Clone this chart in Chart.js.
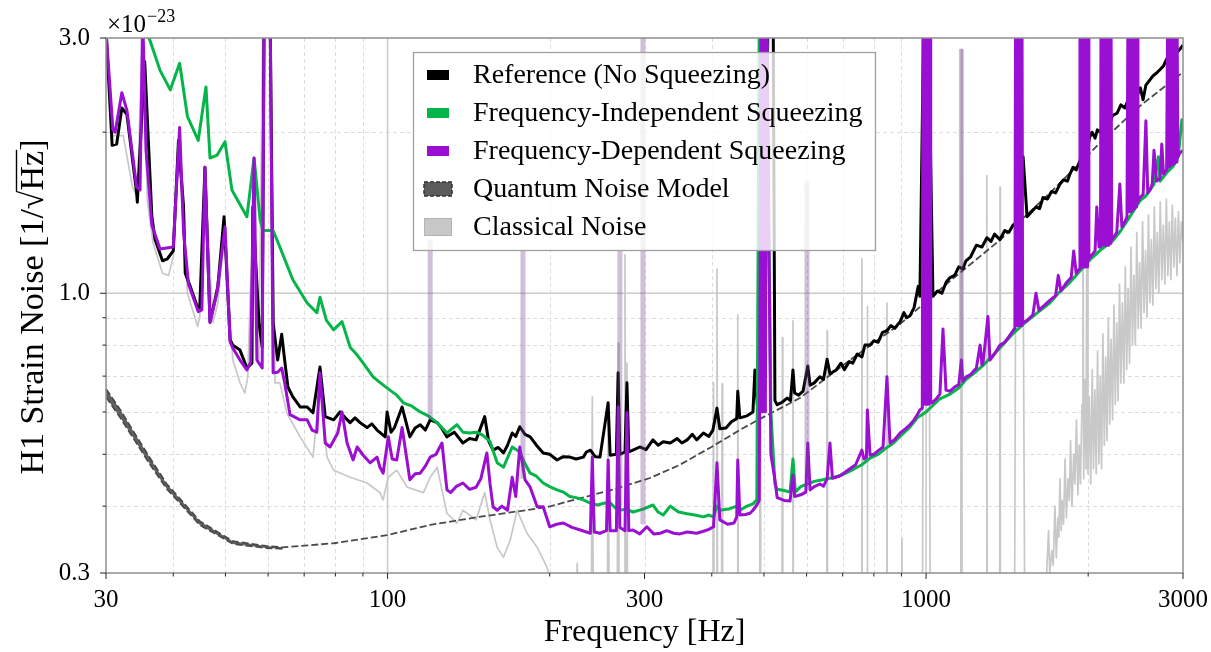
<!DOCTYPE html>
<html><head><meta charset="utf-8">
<script src="https://cdn.jsdelivr.net/npm/chart.js@4.4.1/dist/chart.umd.min.js"></script>
<style>html,body{margin:0;padding:0;background:#fff}#wrap{width:1211px;height:652px}</style>
</head><body><div id="wrap"><canvas id="c" width="1211" height="652"></canvas></div>
<script>
// ---------- DATA (frequency in Hz, strain noise in units of 1e-23 /sqrt(Hz)) ----------
const xTickLabels = [30, 100, 300, 1000, 3000];
const yTickLabels = [0.3, 1.0, 3.0];
const xMinorGrid = [40, 50, 60, 70, 80, 90, 200, 300, 400, 500, 600, 700, 800, 900, 2000];
const xMajorGrid = [100, 1000];
const yMinorGrid = [0.4, 0.5, 0.6, 0.7, 0.8, 0.9, 2.0];
const yMajorGrid = [1.0];
const legendLabels = ['Reference (No Squeezing)', 'Frequency-Independent Squeezing',
  'Frequency-Dependent Squeezing', 'Quantum Noise Model', 'Classical Noise'];

const referenceNoise = [[30,3.1],[30.8,1.89],[31.4,1.90],[32.1,2.22],[32.8,2.16],[34.2,1.54],[34.3,1.48],[35.4,2.71],[36.5,1.39],[37.0,1.26],[38.2,1.15],[39.0,1.16],[40.0,1.20],[40.9,1.93],[41.8,1.45],[42.1,1.09],[43.0,1.03],[44.4,0.94],[44.8,0.94],[45.8,1.72],[46.8,0.885],[47.8,0.971],[48.4,1.03],[49.7,1.39],[51.0,0.818],[51.6,0.80],[53.2,0.783],[54.8,0.725],[56.0,0.74],[56.2,1.45],[57.7,0.881],[58.5,0.793],[59.0,3.5],[60.5,3.5],[61.3,0.881],[62.5,0.75],[63.6,0.838],[64.4,0.75],[65.3,0.668],[66.7,0.64],[68.8,0.613],[70.9,0.613],[72.7,0.598],[74.9,0.728],[76.6,0.588],[79.4,0.58],[81.6,0.60],[83.5,0.585],[85.2,0.573],[87,0.585],[88.9,0.573],[91.6,0.561],[93.5,0.57],[95.6,0.555],[99.0,0.539],[99.8,0.60],[101.5,0.55],[103,0.561],[106.4,0.613],[110,0.539],[112.5,0.56],[115,0.568],[117.5,0.555],[120,0.58],[123.6,0.573],[126,0.56],[128.9,0.539],[133,0.55],[138,0.525],[142,0.535],[146,0.532],[151.5,0.588],[154,0.53],[157,0.509],[160.5,0.515],[164.2,0.503],[167,0.52],[170.4,0.548],[173,0.54],[176,0.563],[180,0.545],[184,0.539],[189,0.52],[194.5,0.503],[200,0.50],[206.4,0.488],[212,0.495],[218,0.494],[224,0.49],[231,0.494],[234,0.505],[238,0.509],[243,0.495],[248,0.494],[256.8,0.624],[259,0.498],[266,0.50],[268,0.71],[270,0.50],[276,0.505],[278.3,0.68],[280.5,0.505],[285.5,0.509],[294,0.516],[302,0.51],[311,0.532],[318,0.52],[325,0.528],[335,0.525],[345,0.535],[352,0.525],[360,0.532],[368,0.545],[375,0.532],[386,0.548],[395,0.54],[402,0.555],[409,0.61],[414,0.558],[425,0.56],[435,0.575],[445,0.583],[447,0.656],[451,0.585],[465,0.59],[477,0.60],[481,0.719],[486,0.619],[490,0.62],[493,3.5],[498,1.2],[510,3.5],[520,3.5],[524,0.63],[529,0.619],[540,0.625],[552,0.637],[560,0.63],[566,0.719],[570,0.651],[580,0.645],[591,0.656],[603,0.731],[609,0.673],[620,0.68],[635,0.698],[645,0.69],[655,0.753],[663,0.707],[681,0.719],[695,0.74],[705,0.72],[720,0.745],[731,0.74],[745,0.77],[760,0.76],[770,0.80],[787,0.80],[800,0.815],[815,0.81],[830,0.845],[846,0.851],[860,0.87],[875,0.86],[895,0.885],[910,0.92],[920,0.90],[934,0.908],[950,0.94],[967,1.03],[974,0.987],[991,3.5],[1008,3.5],[1030,0.987],[1050,1.01],[1070,1.0],[1090,1.05],[1108,1.07],[1130,1.08],[1150,1.12],[1170,1.11],[1186,1.15],[1210,1.17],[1240,1.23],[1270,1.22],[1297,1.27],[1320,1.25],[1340,1.29],[1372,1.26],[1400,1.31],[1425,1.30],[1450,1.34],[1480,1.36],[1500,1.38],[1514,1.80],[1540,1.39],[1570,1.42],[1600,1.45],[1625,1.44],[1649,1.51],[1680,1.50],[1710,1.55],[1740,1.54],[1773,1.60],[1800,1.63],[1830,1.62],[1850,1.67],[1874,1.72],[1900,1.70],[1931,1.77],[1960,1.84],[1990,1.82],[2010,1.95],[2033,2.00],[2060,1.95],[2080,2.02],[2104,2.00],[2140,2.08],[2180,2.05],[2220,2.15],[2263,2.17],[2300,2.25],[2340,2.22],[2380,2.32],[2423,2.37],[2460,2.33],[2500,2.42],[2529,2.30],[2560,2.45],[2600,2.50],[2640,2.55],[2680,2.58],[2720,2.62],[2760,2.66],[2797,2.74],[2840,2.72],[2880,2.80],[2920,2.82],[2962,2.86],[3000,2.91]];

const freqIndepSqz = [[30,4.0],[34,3.4],[36.2,2.97],[37.8,2.61],[39.5,2.40],[41.1,2.69],[42.5,2.14],[44.5,1.93],[46.0,2.43],[46.8,1.79],[48.2,1.81],[49.9,1.92],[51.4,1.56],[54.8,1.39],[56.5,1.79],[58.0,1.37],[58.7,1.31],[61.3,1.31],[63.1,1.22],[66.7,1.06],[70.9,0.959],[73.9,0.920],[74.9,0.983],[77,0.89],[79.4,0.854],[82.3,0.885],[85.2,0.793],[87.5,0.77],[90.1,0.740],[94.0,0.698],[97,0.68],[101,0.659],[104,0.645],[107,0.624],[111,0.615],[115,0.600],[119,0.59],[123.6,0.573],[128.9,0.548],[134.5,0.568],[138,0.55],[142,0.548],[146,0.55],[150.2,0.543],[155,0.528],[159.8,0.482],[164.2,0.473],[170.4,0.516],[176,0.505],[180,0.48],[184,0.461],[189,0.455],[194.5,0.442],[200,0.435],[206.4,0.429],[212,0.425],[218,0.417],[224,0.415],[231,0.411],[238,0.405],[245.6,0.402],[252,0.405],[259,0.406],[264,0.398],[270,0.393],[278,0.395],[285.5,0.390],[298,0.395],[311,0.402],[318,0.39],[325,0.385],[335,0.400],[347,0.39],[360,0.387],[372,0.385],[386,0.382],[395,0.385],[403,0.382],[409,0.40],[414,0.393],[430,0.395],[445,0.400],[451,0.393],[465,0.40],[477,0.404],[485,0.411],[490,3.2],[506,3.2],[515,0.6],[524,0.44],[529,0.43],[545,0.428],[559,0.425],[566,0.49],[572,0.425],[585,0.435],[601,0.44],[620,0.445],[635,0.447],[655,0.45],[670,0.452],[700,0.458],[722,0.465],[760,0.478],[787,0.492],[815,0.50],[846,0.515],[870,0.525],[895,0.540],[930,0.56],[963,0.585],[1000,0.60],[1026,0.615],[1061,0.635],[1108,0.648],[1150,0.665],[1186,0.69],[1230,0.71],[1276,0.733],[1320,0.76],[1372,0.79],[1410,0.815],[1450,0.84],[1514,0.875],[1600,0.915],[1699,0.96],[1760,1.0],[1827,1.035],[1900,1.08],[1960,1.12],[2033,1.165],[2120,1.21],[2224,1.255],[2300,1.31],[2400,1.4],[2496,1.49],[2560,1.52],[2650,1.6],[2700,1.8],[2720,1.62],[2797,1.68],[2880,1.73],[2940,1.80],[2985,2.11],[3000,2.0]];

const freqDepSqz = [[30,3.1],[30.9,2.02],[31.2,2.00],[32.1,2.37],[32.8,2.20],[34.2,1.58],[34.7,1.56],[35.1,3.3],[35.6,1.85],[36.5,1.34],[37.8,1.21],[40.0,1.22],[41.1,2.04],[41.8,1.30],[42.7,1.04],[44.5,0.924],[45.2,0.931],[45.8,1.72],[46.8,0.881],[48.2,1.00],[49.9,1.33],[51.0,0.811],[51.6,0.790],[53.2,0.750],[54.8,0.719],[55.7,0.743],[56.5,1.79],[57.2,0.750],[58.5,0.725],[59.0,3.5],[60.5,3.5],[61.3,0.710],[62.5,0.712],[63.6,0.725],[64.4,0.680],[65.9,0.593],[68.8,0.580],[70.9,0.580],[72.4,0.555],[73.9,0.550],[74.9,0.710],[76.6,0.525],[78.2,0.516],[80.8,0.548],[82.3,0.600],[84.1,0.525],[86.3,0.488],[87.8,0.516],[90.1,0.498],[92.8,0.482],[95.6,0.494],[96.8,0.473],[98.1,0.461],[100.3,0.539],[102,0.49],[104,0.488],[106.4,0.561],[110,0.448],[112.5,0.46],[115,0.461],[117.5,0.475],[120,0.494],[123,0.50],[126.2,0.525],[128.9,0.429],[131,0.424],[134,0.435],[138,0.442],[142,0.43],[146,0.434],[149,0.45],[152.9,0.503],[155,0.44],[157,0.399],[159.8,0.393],[163,0.40],[167,0.393],[170.4,0.453],[173,0.417],[176,0.516],[180,0.448],[184,0.434],[189.6,0.399],[194.5,0.399],[200,0.366],[206,0.37],[212,0.372],[220,0.365],[228,0.361],[238,0.356],[240,0.494],[242,0.358],[248,0.356],[255,0.36],[256.8,0.488],[259,0.36],[266,0.36],[268,0.613],[270,0.365],[276,0.36],[278.3,0.598],[280.5,0.36],[285.5,0.361],[294,0.355],[303,0.366],[312,0.355],[321,0.356],[330,0.36],[340,0.356],[349,0.355],[360,0.358],[375,0.356],[386,0.359],[395,0.362],[403,0.366],[409,0.482],[414,0.377],[428,0.37],[440,0.372],[445,0.382],[447,0.488],[451,0.385],[462,0.386],[471,0.388],[477,0.393],[485,0.402],[490,0.41],[494,3.5],[497,0.6],[500,3.5],[503,0.6],[506,3.5],[515,0.5],[524,0.448],[529,0.415],[545,0.41],[559,0.409],[566,0.457],[570,0.417],[585,0.42],[598,0.425],[603,0.525],[609,0.429],[620,0.435],[635,0.440],[645,0.436],[655,0.45],[663,0.525],[670,0.451],[690,0.455],[705,0.462],[722,0.470],[740,0.478],[760,0.509],[767,0.49],[775,0.494],[778,0.605],[787,0.498],[800,0.50],[815,0.508],[832,0.516],[846,0.698],[857,0.525],[875,0.533],[895,0.548],[915,0.558],[934,0.568],[950,0.58],[963,0.593],[974,0.605],[984,0.61],[987,3.5],[990,0.62],[993,3.5],[996,0.62],[999,3.5],[1002,0.62],[1005,3.5],[1008,0.62],[1011,3.5],[1014,0.62],[1017,3.5],[1020,0.625],[1026,0.624],[1045,0.635],[1061,0.648],[1075,0.857],[1089,0.659],[1108,0.656],[1130,0.668],[1150,0.675],[1163,0.75],[1170,0.685],[1186,0.698],[1210,0.705],[1240,0.725],[1260,0.80],[1270,0.735],[1276,0.742],[1303,0.905],[1314,0.750],[1340,0.77],[1372,0.800],[1400,0.81],[1425,0.83],[1450,0.851],[1462,0.86],[1466,3.5],[1470,0.87],[1474,3.5],[1478,0.87],[1482,3.5],[1486,0.87],[1490,3.5],[1494,0.87],[1498,3.5],[1502,0.87],[1507,3.5],[1511,0.88],[1540,0.89],[1579,0.911],[1600,1.0],[1620,0.93],[1660,0.95],[1699,0.971],[1740,0.99],[1760,1.08],[1780,1.01],[1827,1.05],[1860,1.07],[1880,1.2],[1900,1.09],[1925,1.11],[1931,3.5],[1938,1.12],[1945,3.5],[1952,1.12],[1959,3.5],[1966,1.12],[1973,3.5],[1980,1.12],[1987,3.5],[1994,1.12],[2000,3.5],[2006,1.16],[2033,1.18],[2060,1.20],[2075,1.45],[2095,1.22],[2108,1.22],[2113,3.5],[2121,1.23],[2129,3.5],[2137,1.23],[2145,3.5],[2153,1.23],[2161,3.5],[2169,1.23],[2177,3.5],[2185,1.23],[2193,3.5],[2199,1.24],[2205,3.5],[2212,1.26],[2240,1.28],[2260,1.30],[2290,1.6],[2310,1.33],[2340,1.36],[2361,1.39],[2371,3.5],[2381,1.42],[2391,3.5],[2401,1.42],[2411,3.5],[2421,1.43],[2431,3.5],[2441,1.44],[2451,3.5],[2459,1.45],[2466,3.5],[2474,1.48],[2496,1.51],[2530,1.53],[2560,2.1],[2580,1.54],[2605,1.56],[2630,1.6],[2650,1.85],[2680,1.62],[2720,1.64],[2740,1.9],[2760,1.67],[2797,1.70],[2810,3.5],[2822,1.72],[2834,3.5],[2846,1.73],[2858,3.5],[2870,1.74],[2882,3.5],[2894,1.75],[2906,3.5],[2915,1.76],[2924,3.5],[2935,1.8],[2962,1.83],[3000,1.85]];

const quantumUpper = [[30,0.662],[31.9,0.605],[33.6,0.555],[36.2,0.492],[38.9,0.440],[44.8,0.375],[51.6,0.344],[59.5,0.337],[63.8,0.335],[79.5,0.341],[99.7,0.353],[120,0.369],[148,0.382],[197,0.398],[263,0.430],[308,0.452],[349,0.478],[398,0.515],[455,0.558],[488,0.580],[583,0.637],[722,0.750],[895,0.876],[1108,1.054],[1372,1.258],[1699,1.540],[2104,1.910],[2496,2.239],[3000,2.59]];
const quantumLower = [[30,0.640],[31.9,0.585],[33.6,0.539],[36.2,0.479],[38.9,0.431],[44.8,0.369],[51.6,0.340],[59.5,0.334],[63.8,0.333]];

const classicalNoise = [[30,3.0],[30.9,1.97],[31.9,1.97],[32.3,1.97],[33.6,1.58],[34.3,1.51],[35.1,3.2],[35.8,1.49],[36.7,1.24],[38.2,1.09],[39.2,1.08],[40.0,1.17],[40.9,1.85],[41.8,1.31],[42.5,1.00],[44.4,0.867],[44.8,0.905],[45.8,1.67],[47.4,0.881],[48.4,0.959],[49.9,1.31],[51.6,0.750],[53.2,0.680],[54.3,0.651],[55.0,0.698],[56.2,1.43],[57.7,0.750],[58.7,3.5],[60.5,3.5],[61.8,0.680],[63.1,0.68],[65.0,0.598],[68.8,0.539],[72.7,0.494],[74.9,0.668],[77.2,0.494],[79.4,0.467],[85.2,0.453],[91.6,0.442],[96.8,0.424],[98.1,0.411],[100.3,0.453],[104,0.467],[108.8,0.434],[116.6,0.424],[120,0.453],[123.6,0.473],[128.9,0.388],[134.5,0.372],[138,0.393],[146,0.377],[151.5,0.424],[155,0.377],[159.8,0.335],[164.2,0.321],[169,0.346],[174,0.393],[181.5,0.356],[189.6,0.335],[197.6,0.308],[203,0.28],[215,0.25],[224,0.25],[225,0.313],[226,0.25],[239,0.25],[240,0.640],[241,0.25],[256,0.25],[256.8,0.624],[258,0.25],[267,0.25],[268,0.807],[269,0.25],[275,0.25],[276,1.18],[277,0.25],[277.6,0.25],[278.3,0.740],[279,0.25],[402,0.25],[403,0.680],[404,0.25],[408,0.25],[409,1.11],[410,0.25],[417,0.25],[418,0.677],[419,0.25],[446,0.25],[447,0.911],[448,0.25],[491,0.25],[492,1.53],[493,0.25],[540,0.25],[541,0.826],[542,0.25],[565,0.25],[566,0.888],[567,0.25],[654,0.25],[655,0.851],[656,0.25],[759,0.25],[760,1.16],[761,0.25],[777,0.25],[778,0.944],[779,0.25],[845,0.25],[846,0.959],[847,0.25],[901,0.25],[902,0.348],[903,0.25],[985,0.25],[988,1.6],[1000,0.9],[1012,1.6],[1018,0.25],[1160,0.25],[1163,2.86],[1166,0.25],[1295,0.25],[1297,1.66],[1299,0.25],[1370,0.25],[1372,1.58],[1374,0.25],[1460,0.25],[1470,2.2],[1490,1.2],[1510,2.2],[1525,0.25],[1663,0.25],[1677,0.31],[1688,0.36],[1697,0.30],[1712,0.33],[1722,0.31],[1735,0.40],[1745,0.32],[1757,0.38],[1764,0.35],[1773,0.45],[1782,0.36],[1790,0.41],[1800,0.37],[1812,0.49],[1822,0.38],[1835,0.45],[1845,0.41],[1855,0.53],[1866,0.40],[1880,0.50],[1890,0.44],[1902,0.58],[1914,0.42],[1925,0.52],[1935,0.44],[1948,0.62],[1956,1.49],[1962,0.45],[1973,0.69],[1982,0.47],[1990,2.02],[1998,0.46],[2010,0.64],[2022,0.44],[2035,0.72],[2046,0.47],[2058,0.66],[2070,0.46],[2082,0.78],[2094,0.48],[2106,0.70],[2118,0.47],[2130,0.84],[2143,0.52],[2156,0.76],[2168,0.53],[2180,0.90],[2193,0.57],[2206,0.82],[2220,0.58],[2233,0.95],[2246,0.62],[2260,0.88],[2273,0.63],[2287,1.04],[2300,0.68],[2315,0.96],[2330,0.68],[2344,1.12],[2358,0.72],[2372,1.02],[2387,0.74],[2402,1.22],[2417,0.80],[2432,1.08],[2447,0.80],[2462,1.30],[2477,0.86],[2492,1.14],[2508,0.86],[2524,1.36],[2540,0.92],[2556,1.20],[2572,0.90],[2588,1.40],[2604,0.96],[2620,1.26],[2637,0.95],[2654,1.45],[2671,1.02],[2688,1.30],[2705,1.00],[2722,1.48],[2740,1.06],[2758,1.34],[2776,1.04],[2794,1.50],[2812,1.08],[2830,1.36],[2848,1.06],[2866,1.46],[2885,1.12],[2904,1.38],[2923,1.08],[2942,1.42],[2961,1.14],[2980,1.36],[3000,1.25]];

// faint overlaid line features: [frequency, base, top]
const faintLines = [[120,0.58,1.26],[178.4,0.45,1.2],[270,0.40,1.20],[298,0.37,3.5],[601,0.45,1.62],[1163,0.68,2.86]];

// ---------- STYLE ----------
const C_REF = '#000000', C_FIS = '#06b54a', C_FDS = '#9a0fd2', C_QN = '#4a4a4a', C_CL = '#c8c8c8';
const FONT = "'Liberation Serif', 'Times New Roman', serif";
Chart.defaults.font.family = FONT;
Chart.defaults.color = '#000';

const toXY = a => a.map(p => ({x: p[0], y: p[1]}));
const faintData = [];
faintLines.forEach(s => { faintData.push({x: s[0], y: s[1]}, {x: s[0], y: s[2]}, {x: s[0], y: null}); });

const decor = {
  id: 'decor',
  beforeDatasetsDraw(chart) {
    const {ctx, chartArea: a, scales: {x, y}} = chart;
    ctx.save();
    ctx.lineWidth = 1; ctx.strokeStyle = '#dedede'; ctx.setLineDash([4, 3]);
    ctx.beginPath();
    xMinorGrid.forEach(v => { const p = Math.round(x.getPixelForValue(v)) + 0.5; ctx.moveTo(p, a.top); ctx.lineTo(p, a.bottom); });
    yMinorGrid.forEach(v => { const p = Math.round(y.getPixelForValue(v)) + 0.5; ctx.moveTo(a.left, p); ctx.lineTo(a.right, p); });
    ctx.stroke();
    ctx.setLineDash([]); ctx.strokeStyle = '#cccccc'; ctx.lineWidth = 1.6;
    ctx.beginPath();
    xMajorGrid.forEach(v => { const p = x.getPixelForValue(v); ctx.moveTo(p, a.top); ctx.lineTo(p, a.bottom); });
    yMajorGrid.forEach(v => { const p = y.getPixelForValue(v); ctx.moveTo(a.left, p); ctx.lineTo(a.right, p); });
    ctx.stroke();
    ctx.restore();
  },
  afterDatasetsDraw(chart) {
    const {ctx, chartArea: a, scales: {x, y}} = chart;
    ctx.save();
    ctx.strokeStyle = '#8f8f8f'; ctx.lineWidth = 1.5;
    ctx.strokeRect(a.left, a.top, a.right - a.left, a.bottom - a.top);
    ctx.strokeStyle = '#222'; ctx.lineWidth = 1;
    ctx.beginPath();
    xTickLabels.forEach(v => { const p = x.getPixelForValue(v); ctx.moveTo(p, a.bottom); ctx.lineTo(p, a.bottom + 6); });
    xMinorGrid.concat(xMajorGrid).forEach(v => { if (xTickLabels.includes(v)) return; const p = x.getPixelForValue(v); ctx.moveTo(p, a.bottom); ctx.lineTo(p, a.bottom + 3.5); });
    yTickLabels.forEach(v => { const p = y.getPixelForValue(v); ctx.moveTo(a.left, p); ctx.lineTo(a.left - 6, p); });
    yMinorGrid.forEach(v => { const p = y.getPixelForValue(v); ctx.moveTo(a.left, p); ctx.lineTo(a.left - 3.5, p); });
    ctx.stroke();
    // legend
    const L = {x: 413.5, y: 52.5, w: 462, h: 198};
    ctx.fillStyle = 'rgba(255,255,255,0.8)';
    ctx.fillRect(L.x, L.y, L.w, L.h);
    ctx.strokeStyle = '#a0a0a0'; ctx.lineWidth = 1.3;
    ctx.strokeRect(L.x, L.y, L.w, L.h);
    const cols = [C_REF, C_FIS, C_FDS];
    ctx.font = '28px ' + FONT; ctx.textBaseline = 'alphabetic'; ctx.textAlign = 'left';
    legendLabels.forEach((lab, i) => {
      const cy = 75 + i * 38;
      if (i < 3) { ctx.fillStyle = cols[i]; ctx.fillRect(427, cy - 5, 22, 10); }
      else if (i === 3) {
        ctx.fillStyle = '#5c5c5c'; ctx.fillRect(424, cy - 7, 28, 14);
        ctx.setLineDash([4, 2]); ctx.strokeStyle = '#333'; ctx.lineWidth = 1.5;
        ctx.strokeRect(424, cy - 7, 28, 14); ctx.setLineDash([]);
      } else {
        ctx.fillStyle = '#c8c8c8'; ctx.fillRect(424, cy - 9, 28, 18);
        ctx.strokeStyle = '#b4b4b4'; ctx.lineWidth = 1; ctx.strokeRect(424.5, cy - 8.5, 27, 17);
      }
      ctx.fillStyle = '#000';
      ctx.fillText(lab, 473, cy + 8);
    });
    // offset text
    ctx.font = '25px ' + FONT;
    ctx.fillText('\u00d710', 107, 32);
    const w10 = ctx.measureText('\u00d710').width;
    ctx.font = '18px ' + FONT;
    ctx.fillText('\u221223', 107 + w10 + 1, 22);
    // y title
    ctx.translate(43, 307); ctx.rotate(-Math.PI / 2);
    ctx.font = '34px ' + FONT;
    const pre = 'H1 Strain Noise [1/\u221a', hz = 'Hz', post = ']';
    const wp = ctx.measureText(pre).width, wh = ctx.measureText(hz).width, wq = ctx.measureText(post).width;
    const x0 = -(wp + wh + wq) / 2;
    ctx.fillText(pre, x0, 0); ctx.fillText(hz, x0 + wp, 0); ctx.fillText(post, x0 + wp + wh, 0);
    ctx.strokeStyle = '#000'; ctx.lineWidth = 1.4;
    ctx.beginPath(); ctx.moveTo(x0 + wp - 1, -26.5); ctx.lineTo(x0 + wp + wh + 1, -26.5); ctx.stroke();
    ctx.restore();
  }
};

const common = {pointRadius: 0, pointHoverRadius: 0, tension: 0, borderJoinStyle: 'round', clip: 0, fill: false};

new Chart(document.getElementById('c'), {
  type: 'line',
  data: {datasets: [
    Object.assign({}, common, {label: 'faint', data: faintData, borderColor: 'rgba(120,70,150,0.35)', borderWidth: 5, spanGaps: false, order: 0}),
    Object.assign({}, common, {label: legendLabels[2], data: toXY(freqDepSqz), borderColor: C_FDS, borderWidth: 3, order: 1}),
    Object.assign({}, common, {label: legendLabels[1], data: toXY(freqIndepSqz), borderColor: C_FIS, borderWidth: 3, order: 2}),
    Object.assign({}, common, {label: legendLabels[0], data: toXY(referenceNoise), borderColor: C_REF, borderWidth: 3, order: 3}),
    Object.assign({}, common, {label: legendLabels[3], data: toXY(quantumUpper), borderColor: C_QN, borderWidth: 1.8, borderDash: [7, 3], order: 4}),
    Object.assign({}, common, {label: 'qnLower', data: toXY(quantumLower), borderColor: C_QN, borderWidth: 1.8, borderDash: [7, 3], fill: '-1', backgroundColor: 'rgba(70,70,70,0.85)', order: 5}),
    Object.assign({}, common, {label: legendLabels[4], data: toXY(classicalNoise), borderColor: C_CL, borderWidth: 1.7, order: 6})
  ]},
  options: {
    responsive: false, animation: false, devicePixelRatio: 1,
    layout: {padding: {top: 38, right: 28, left: 0, bottom: 0}},
    plugins: {legend: {display: false}, tooltip: {enabled: false}},
    scales: {
      x: {type: 'logarithmic', min: 30, max: 3000, position: 'bottom',
        afterBuildTicks: s => { s.ticks = xTickLabels.map(v => ({value: v})); },
        afterFit: s => { s.height = 79; s.paddingRight = 0; s.paddingLeft = 0; },
        grid: {display: false}, border: {display: false},
        ticks: {autoSkip: false, maxRotation: 0, padding: 4, color: '#000', font: {size: 25}, callback: v => String(v)},
        title: {display: true, text: 'Frequency [Hz]', color: '#000', font: {size: 32}, padding: {top: 0, bottom: 0}}
      },
      y: {type: 'logarithmic', min: 0.3, max: 3.0,
        afterBuildTicks: s => { s.ticks = yTickLabels.map(v => ({value: v})); },
        afterFit: s => { s.width = 106; s.paddingTop = 0; s.paddingBottom = 0; },
        grid: {display: false}, border: {display: false},
        ticks: {autoSkip: false, padding: 8, color: '#000', font: {size: 25}, callback: v => Number(v).toFixed(1)}
      }
    }
  },
  plugins: [decor]
});
</script></body></html>
